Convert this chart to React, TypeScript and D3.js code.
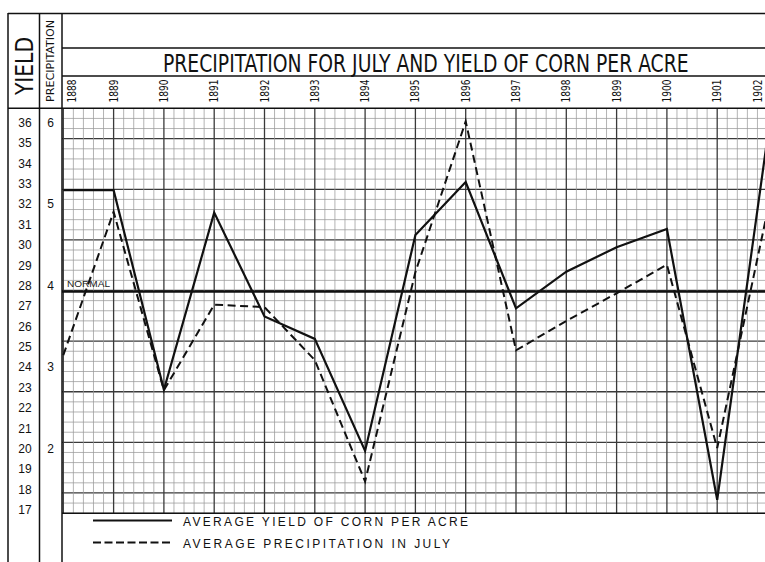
import { useRef, useLayoutEffect, useState } from "react";
import * as d3 from "d3";

const YEARS = [1888, 1889, 1890, 1891, 1892, 1893, 1894, 1895, 1896, 1897, 1898, 1899, 1900, 1901, 1902];
// average yield of corn, bushels per acre
const YIELD = [32.7, 32.7, 22.9, 31.6, 26.5, 25.4, 19.9, 30.5, 33.1, 26.9, 28.7, 29.9, 30.8, 17.5, 35.3];
// average precipitation in July, inches
const PRECIP = [3.15, 4.91, 2.72, 3.77, 3.74, 3.09, 1.6, 4.17, 6.02, 3.21, 3.57, 3.91, 4.26, 2.01, 4.92];
const NORMAL_PRECIP = 3.93;

const YIELD_TICKS = [36, 35, 34, 33, 32, 31, 30, 29, 28, 27, 26, 25, 24, 23, 22, 21, 20, 19, 18, 17];
const PRECIP_TICKS = [6, 5, 4, 3, 2];

const TITLE = "PRECIPITATION FOR JULY AND YIELD OF CORN PER ACRE";
const LEGEND = [
  { label: "AVERAGE YIELD OF CORN PER ACRE", dashed: false, len: 285 },
  { label: "AVERAGE PRECIPITATION IN JULY", dashed: true, len: 267 },
];

const W = 765;
const H = 562;
const FONT = "'DejaVu Sans Condensed', 'Liberation Sans Narrow', 'Liberation Sans', Arial, sans-serif";
const PLAIN = "'Liberation Sans', Arial, sans-serif";

const plot = { left: 62, right: 765, top: 108.3, bottom: 513.2 };

// squeeze a text horizontally to a given width, instead of textLength
function Squeezed({ x, y, width, size, children }: { x: number; y: number; width: number; size: number; children: string }) {
  const ref = useRef<SVGTextElement>(null);
  const [sx, setSx] = useState(1);
  useLayoutEffect(() => {
    if (!ref.current) return;
    const len = ref.current.getComputedTextLength();
    if (len > 0) setSx(width / len);
  }, [width, children]);
  return (
    <text
      ref={ref}
      transform={`translate(${x},${y}) scale(${sx},1)`}
      fontFamily={FONT}
      fontSize={size}
      fill="#111"
    >
      {children}
    </text>
  );
}

export default function App() {
  const x = d3.scaleLinear().domain([1888, 1902]).range([63.3, 767.5]);
  const yYield = d3.scaleLinear().domain([17, 36]).range([510, 123]);
  const yPrecip = d3.scaleLinear().domain([1.25, 6]).range([510, 123]);
  // graph paper rows (minor divisions, heavier every fifth)
  const paperY = d3.scaleLinear().domain([0, 40]).range([plot.bottom, plot.top]);

  const yieldLine = d3
    .line<number>()
    .x((_, i) => x(YEARS[i]))
    .y((d) => yYield(d));
  const precipLine = d3
    .line<number>()
    .x((_, i) => x(YEARS[i]))
    .y((d) => yPrecip(d));

  const colTicks = d3.range(0, 71).map((k) => 1888 + k / 5);
  const rowTicks = d3.range(0, 41);

  return (
    <svg
      width={W}
      height={H}
      style={{ position: "absolute", left: 0, top: 0, background: "#fff" }}
    >
      <rect x={0} y={0} width={W} height={H} fill="#fff" />
      <defs>
        <clipPath id="plotClip">
          <rect x={plot.left} y={plot.top} width={plot.right - plot.left} height={plot.bottom - plot.top} />
        </clipPath>
      </defs>

      {/* graph paper */}
      <g clipPath="url(#plotClip)">
        {rowTicks.map((i) => (
          <line
            key={"r" + i}
            x1={plot.left}
            x2={plot.right}
            y1={paperY(i)}
            y2={paperY(i)}
            stroke={i % 5 === 2 ? "#3a3a3a" : "#999"}
            strokeWidth={i % 5 === 2 ? 1.3 : 0.75}
          />
        ))}
        {colTicks.map((t, k) => (
          <line
            key={"c" + k}
            x1={x(t)}
            x2={x(t)}
            y1={plot.top}
            y2={plot.bottom}
            stroke={k % 5 === 0 ? "#3a3a3a" : "#999"}
            strokeWidth={k % 5 === 0 ? 1.3 : 0.75}
          />
        ))}
        {/* normal line */}
        <line
          x1={plot.left}
          x2={plot.right}
          y1={yPrecip(NORMAL_PRECIP)}
          y2={yPrecip(NORMAL_PRECIP)}
          stroke="#111"
          strokeWidth={2.4}
        />
        <path d={precipLine(PRECIP) || ""} fill="none" stroke="#111" strokeWidth={2} strokeDasharray="8,4.5" />
        <path d={yieldLine(YIELD) || ""} fill="none" stroke="#111" strokeWidth={2.2} strokeLinejoin="miter" />
      </g>
      <text
        x={67}
        y={yPrecip(NORMAL_PRECIP) - 8}
        fontFamily={PLAIN}
        fontSize={9}
        textLength={43}
        lengthAdjust="spacingAndGlyphs"
        dominantBaseline="central"
        fill="#222"
      >
        NORMAL
      </text>

      {/* frame */}
      <g stroke="#111" strokeWidth={1.5} fill="none">
        <line x1={8} x2={W} y1={13.5} y2={13.5} />
        <line x1={plot.left} x2={W} y1={48} y2={48} />
        <line x1={plot.left} x2={W} y1={76} y2={76} />
        <line x1={8} x2={W} y1={plot.top} y2={plot.top} />
        <line x1={plot.left} x2={W} y1={plot.bottom} y2={plot.bottom} />
        <line x1={8} x2={8} y1={13} y2={H} />
        <line x1={39.5} x2={39.5} y1={13} y2={H} />
        <line x1={plot.left} x2={plot.left} y1={13} y2={H} />
      </g>

      {/* header */}
      <Squeezed x={163} y={72} width={526} size={25}>
        {TITLE}
      </Squeezed>
      <text
        transform="translate(24,66) rotate(-90)"
        textAnchor="middle"
        dominantBaseline="central"
        fontFamily={FONT}
        fontSize={25}
        textLength={58}
        lengthAdjust="spacingAndGlyphs"
        fill="#111"
      >
        YIELD
      </text>
      <text
        transform="translate(50,61) rotate(-90)"
        textAnchor="middle"
        dominantBaseline="central"
        fontFamily={FONT}
        fontSize={11}
        textLength={82}
        lengthAdjust="spacingAndGlyphs"
        fill="#111"
      >
        PRECIPITATION
      </text>
      {YEARS.map((yr) => {
        const cx = Math.min(758, Math.max(72, x(yr)));
        return (
          <text
            key={yr}
            transform={`translate(${cx},91) rotate(-90)`}
            textAnchor="middle"
            dominantBaseline="central"
            fontFamily={FONT}
            fontSize={11.5}
            textLength={23}
            lengthAdjust="spacingAndGlyphs"
            fill="#111"
          >
            {yr}
          </text>
        );
      })}

      {/* axis labels */}
      {YIELD_TICKS.map((v) => (
        <text
          key={"y" + v}
          x={25}
          y={yYield(v)}
          textAnchor="middle"
          dominantBaseline="central"
          fontFamily={PLAIN}
          fontSize={12}
          fill="#111"
        >
          {v}
        </text>
      ))}
      {PRECIP_TICKS.map((v) => (
        <text
          key={"p" + v}
          x={50.5}
          y={yPrecip(v)}
          textAnchor="middle"
          dominantBaseline="central"
          fontFamily={PLAIN}
          fontSize={12}
          fill="#111"
        >
          {v}
        </text>
      ))}

      {/* legend */}
      {LEGEND.map((item, i) => {
        const ly = 520.5 + i * 22;
        return (
          <g key={item.label}>
            <line
              x1={93}
              x2={172}
              y1={ly}
              y2={ly}
              stroke="#111"
              strokeWidth={2}
              strokeDasharray={item.dashed ? "8,3.5" : undefined}
            />
            <text
              x={183}
              y={ly + 1.5}
              dominantBaseline="central"
              fontFamily={PLAIN}
              fontSize={12}
              textLength={item.len}
              lengthAdjust="spacing"
              fill="#111"
            >
              {item.label}
            </text>
          </g>
        );
      })}
    </svg>
  );
}
